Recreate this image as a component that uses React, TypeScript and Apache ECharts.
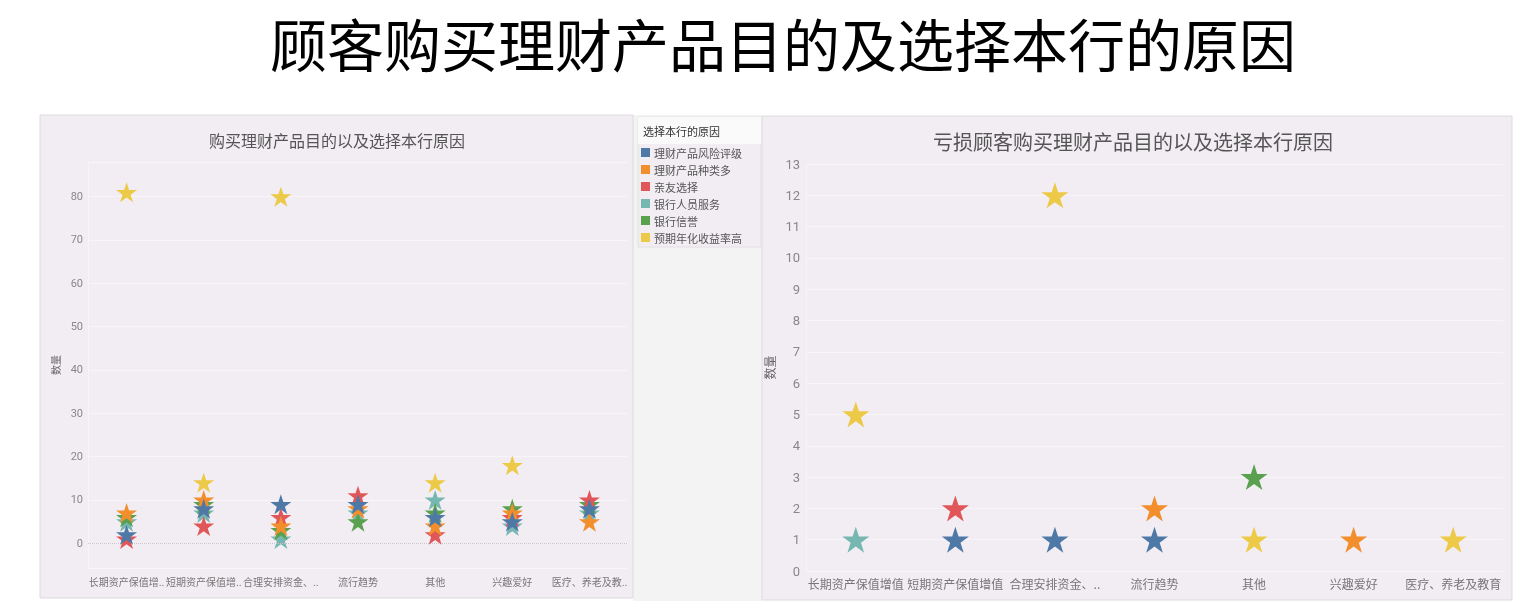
import React, { useEffect, useRef } from "react";
import * as echarts from "echarts";

const reasons = ["理财产品风险评级", "理财产品种类多", "亲友选择", "银行人员服务", "银行信誉", "预期年化收益率高"];
const reasonColors = ["#4e79a7", "#f28e2b", "#e15759", "#76b7b2", "#59a14f", "#edc948"];

const leftCategories = ["长期资产保值增..", "短期资产保值增..", "合理安排资金、..", "流行趋势", "其他", "兴趣爱好", "医疗、养老及教.."];
const rightCategories = ["长期资产保值增值", "短期资产保值增值", "合理安排资金、..", "流行趋势", "其他", "兴趣爱好", "医疗、养老及教育"];

// 全部顾客
const leftRisk = [2, 8, 9, 9, 6, 5, 8];
const leftVariety = [7, 10, 4, 8, 4, 7, 5];
const leftFriends = [1, 4, 6, 11, 2, 6, 10];
const leftStaff = [5, 7, 1, 7, 10, 4, 7];
const leftReputation = [6, 9, 3, 5, 7, 8, 9];
const leftYield = [81, 14, 80, null, 14, 18, null];

// 亏损顾客
const rightRisk = [null, 1, 1, 1, null, null, null];
const rightVariety = [null, null, null, 2, null, 1, null];
const rightFriends = [null, 2, null, null, null, null, null];
const rightStaff = [1, null, null, null, null, null, null];
const rightReputation = [null, null, null, null, 3, null, null];
const rightYield = [5, null, 12, null, 1, null, 1];

const leftSeriesData = [leftRisk, leftVariety, leftFriends, leftStaff, leftReputation, leftYield];
const rightSeriesData = [rightRisk, rightVariety, rightFriends, rightStaff, rightReputation, rightYield];

const drawOrder = [3, 4, 2, 1, 5, 0];

const STAR = "path://M50,0 L61.2,34.5 L97.6,34.5 L68.2,55.9 L79.4,90.5 L50,69.1 L20.6,90.5 L31.8,55.9 L2.4,34.5 L38.8,34.5 Z";

const PANEL_BG = "#f2ecf3";
const CJK = "'Noto Sans CJK SC', sans-serif";

export default function App() {
  const ref = useRef<HTMLDivElement>(null);
  useEffect(() => {
    if (!ref.current) return;
    const chart = echarts.init(ref.current, undefined, { renderer: "svg" });

    const series: any[] = [];
    drawOrder.forEach((i, k) => {
      series.push({
        type: "scatter",
        name: reasons[i],
        xAxisIndex: 0,
        yAxisIndex: 0,
        data: leftSeriesData[i],
        symbol: STAR,
        symbolSize: [21, 20],
        itemStyle: { color: reasonColors[i], opacity: 1 },
        z: 3 + k,
        markLine: k === 0 ? {
          silent: true,
          symbol: "none",
          label: { show: false },
          lineStyle: { color: "#c8c2c8", type: "dotted", width: 1 },
          data: [{ yAxis: 0 }],
        } : undefined,
      });
      series.push({
        type: "scatter",
        name: reasons[i],
        xAxisIndex: 1,
        yAxisIndex: 1,
        data: rightSeriesData[i],
        symbol: STAR,
        symbolSize: [27, 26],
        itemStyle: { color: reasonColors[i], opacity: 1 },
        z: 3 + k,
      });
    });

    const option: any = {
      animation: false,
      color: reasonColors,
      textStyle: { fontFamily: CJK },
      graphic: [
        { type: "rect", z: -10, shape: { x: 0, y: 0, width: 1536, height: 609 }, style: { fill: "#ffffff" } },
        { type: "rect", z: -9, shape: { x: 633, y: 115, width: 129, height: 486 }, style: { fill: "#f3f3f3" } },
        { type: "rect", z: -8, shape: { x: 40, y: 115, width: 593, height: 483 }, style: { fill: PANEL_BG, stroke: "#dcdcdc", lineWidth: 1 } },
        { type: "rect", z: -8, shape: { x: 762, y: 116, width: 750, height: 484 }, style: { fill: PANEL_BG, stroke: "#dcdcdc", lineWidth: 1 } },
        { type: "rect", z: -7, shape: { x: 638, y: 117, width: 123, height: 130 }, style: { fill: PANEL_BG, stroke: "#e2e2e2", lineWidth: 1 } },
        { type: "rect", z: -6, shape: { x: 638, y: 117, width: 123, height: 27 }, style: { fill: "#fbfafb" } },
        {
          type: "text", z: 10, x: 643, y: 131,
          style: { text: "选择本行的原因", fontSize: 11, fill: "#333", fontFamily: CJK, verticalAlign: "middle", align: "left" },
        },
        {
          type: "text", z: 10, x: 783, y: 42,
          style: { text: "顾客购买理财产品目的及选择本行的原因", fontSize: 57, fill: "#000", fontFamily: CJK, verticalAlign: "middle", align: "center" },
        },
        {
          type: "text", z: 10, x: 337, y: 140,
          style: { text: "购买理财产品目的以及选择本行原因", fontSize: 16, fill: "#555", fontFamily: CJK, verticalAlign: "middle", align: "center" },
        },
        {
          type: "text", z: 10, x: 1133, y: 141,
          style: { text: "亏损顾客购买理财产品目的以及选择本行原因", fontSize: 20, fill: "#555", fontFamily: CJK, verticalAlign: "middle", align: "center" },
        },
      ],
      legend: {
        data: reasons,
        orient: "vertical",
        left: 641,
        top: 147,
        padding: 0,
        icon: "rect",
        itemWidth: 9,
        itemHeight: 9,
        itemGap: 6,
        selectedMode: false,
        textStyle: { fontSize: 11, lineHeight: 11, color: "#555", fontFamily: CJK, padding: [0, 0, 0, -1] },
      },
      grid: [
        { left: 88, top: 162, width: 540, height: 406 },
        { left: 806, top: 164, width: 697, height: 407 },
      ],
      xAxis: [
        {
          type: "category", gridIndex: 0, data: leftCategories,
          axisLine: { show: false }, axisTick: { show: false },
          splitLine: { show: false },
          axisLabel: { color: "#777", fontSize: 10, margin: 8, interval: 0, fontFamily: CJK },
        },
        {
          type: "category", gridIndex: 1, data: rightCategories,
          axisLine: { show: false }, axisTick: { show: false },
          splitLine: { show: false },
          axisLabel: { color: "#777", fontSize: 12, margin: 6, interval: 0, fontFamily: CJK },
        },
      ],
      yAxis: [
        {
          type: "value", gridIndex: 0, min: -5.7, max: 88, splitNumber: 9,
          name: "数量", nameLocation: "middle", nameGap: 28, nameRotate: 90,
          nameTextStyle: { fontSize: 10, color: "#666", fontFamily: CJK },
          axisLine: { show: true, lineStyle: { color: "#f7f4f8" } }, axisTick: { show: false },
          axisLabel: { color: "#888", fontSize: 11, margin: 5, showMinLabel: false, showMaxLabel: false, fontFamily: "Roboto" },
          splitLine: { lineStyle: { color: "#f8f5f9", width: 1 } },
        },
        {
          type: "value", gridIndex: 1, min: 0, max: 13, splitNumber: 13,
          name: "数量", nameLocation: "middle", nameGap: 31, nameRotate: 90,
          nameTextStyle: { fontSize: 12, color: "#666", fontFamily: CJK },
          axisLine: { show: true, lineStyle: { color: "#f7f4f8" } }, axisTick: { show: false },
          axisLabel: { color: "#888", fontSize: 13, margin: 6, fontFamily: "Roboto" },
          splitLine: { lineStyle: { color: "#f8f5f9", width: 1 } },
        },
      ],
      series,
    };
    chart.setOption(option);
    return () => chart.dispose();
  }, []);
  return <div ref={ref} style={{ position: "fixed", left: 0, top: 0, width: 1536, height: 609 }} />;
}
